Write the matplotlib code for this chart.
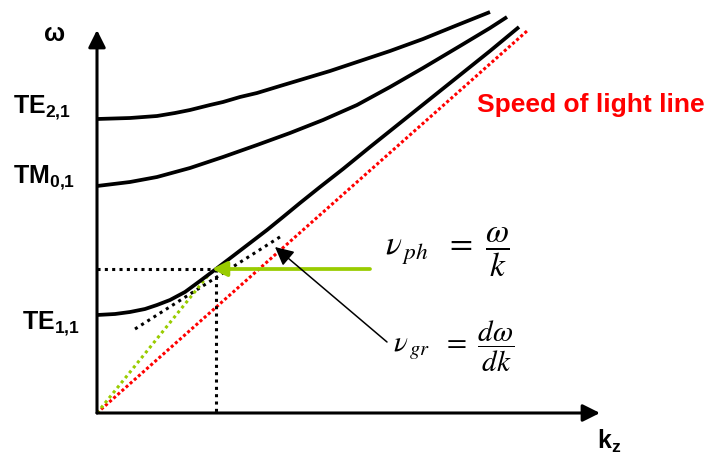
import matplotlib.pyplot as plt

plt.rcParams["font.family"] = ["Liberation Sans", "DejaVu Sans"]
plt.rcParams["mathtext.fontset"] = "custom"
plt.rcParams["mathtext.bf"] = "Liberation Sans:bold"
plt.rcParams["mathtext.rm"] = "Liberation Sans"

k_te21 = [0, 33, 60, 78, 93, 113, 126, 143, 160, 183, 203, 233, 260, 293, 326, 358, 393]
w_te21 = [294, 295, 297, 300, 303, 308, 311, 316, 320, 327, 333, 342, 351, 362, 374, 387, 401]

k_tm01 = [0, 33, 60, 93, 126, 160, 193, 226, 260, 293, 326, 363, 393, 410]
w_tm01 = [227, 231, 236, 245, 256, 268, 280, 293, 308, 326, 345, 367, 385, 396]

k_te11 = [0, 18, 33, 48, 60, 73, 88, 103, 119, 136, 153, 170, 186, 203, 223, 246,
          273, 303, 333, 363, 393, 422]
w_te11 = [98, 99, 101, 104, 108, 113, 121, 132, 144, 157, 170, 183, 196, 210, 226, 244,
          266, 290, 314, 338, 362, 386]

# light line omega = c k
k_light = [0, 430]
w_light = [0, 382]

# operating point on TE11 and its tangent / phase lines
k_op, w_op = 119, 144
k_tan = [38, 186]
w_tan = [84, 178]
k_ph = [0, 113]
w_ph = [0, 140]

green = "#99CC00"

fig = plt.figure(figsize=(7.07, 4.55), dpi=100)
ax = fig.add_axes([0, 0, 1, 1])
ax.set_xlim(-97, 610)
ax.set_ylim(-42, 413)
ax.axis("off")

# axes with arrow heads
axis_arrow = dict(arrowstyle="-|>", lw=2.2, color="black",
                  mutation_scale=26, shrinkA=0, shrinkB=0)
ax.annotate("", xy=(0, 383), xytext=(0, 0), arrowprops=axis_arrow)
ax.annotate("", xy=(503, 0), xytext=(0, 0), arrowprops=axis_arrow)

# dotted guides
dots = dict(lw=2.2, dash_capstyle="butt")
ax.plot(k_light, w_light, color="red", linestyle=(0, (1, 0.8)), **dots)
ax.plot([0, k_op], [w_op, w_op], color="black", linestyle=(0, (1, 1.4)), **dots)
ax.plot([k_op, k_op], [w_op, 0], color="black", linestyle=(0, (1, 1.4)), **dots)
ax.plot(k_tan, w_tan, color="black", linestyle=(0, (1, 1.4)), **dots)
ax.plot(k_ph, w_ph, color=green, linestyle=(0, (1, 1.1)), **dots)

# modes
for k, w in [(k_te21, w_te21), (k_tm01, w_tm01), (k_te11, w_te11)]:
    ax.plot(k, w, color="black", lw=2.7, solid_capstyle="butt",
            solid_joinstyle="round")

# phase velocity arrow
ax.annotate("", xy=(k_op - 4, w_op), xytext=(273, w_op),
            arrowprops=dict(arrowstyle="-|>", lw=2.7, color=green,
                            mutation_scale=22, shrinkA=0, shrinkB=0))
# group velocity pointer
ax.annotate("", xy=(178, 166), xytext=(290, 71),
            arrowprops=dict(arrowstyle="-|>", lw=1.1, color="black",
                            mutation_scale=28, shrinkA=0, shrinkB=0))

# labels
ax.text(-42, 379, "ω", fontsize=18, fontweight="bold", ha="center", va="center")
ax.text(-84, 300, r"$\mathbf{TE_{2{,}1}}$", fontsize=18, va="baseline")
ax.text(-84, 230, r"$\mathbf{TM_{0{,}1}}$", fontsize=18, va="baseline")
ax.text(-75, 84, r"$\mathbf{TE_{1{,}1}}$", fontsize=18, va="baseline")
ax.text(500, -36, r"$\mathbf{k_z}$", fontsize=18, va="baseline")
ax.text(380, 301, "Speed of light line", color="red", fontsize=19,
        fontweight="bold", va="baseline")

ax.text(288, 161, r"$\nu_{\,ph}\ \ =\ \dfrac{\omega}{k}$", fontsize=24,
        math_fontfamily="stix", va="center")
ax.text(296, 67, r"$\nu_{\,gr}\ \ =\ \dfrac{d\omega}{dk}$", fontsize=21,
        math_fontfamily="stix", va="center")

fig.savefig("out.png", dpi=100)
